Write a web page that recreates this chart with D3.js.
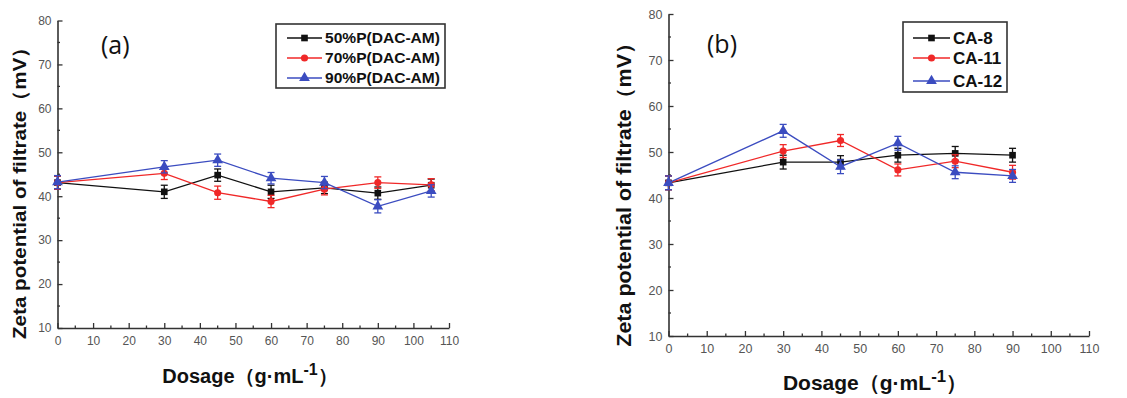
<!DOCTYPE html>
<html><head><meta charset="utf-8">
<script src="https://cdn.jsdelivr.net/npm/d3@7"></script>
<style>
html,body{margin:0;padding:0;background:#fff;}
svg{display:block;}
text{font-family:Arial,"Liberation Sans",sans-serif;}
</style></head>
<body>
<script>
// ---------- data ----------
const xTicks = [0,10,20,30,40,50,60,70,80,90,100,110];
const yTicks = [10,20,30,40,50,60,70,80];

const dosesA = [0,30,45,60,75,90,105];
const namesA = ["50%P(DAC-AM)","70%P(DAC-AM)","90%P(DAC-AM)"];
const a50 = [43.1,41.0,44.8,41.0,41.9,40.7,42.5];
const a70 = [43.1,45.2,40.8,38.8,41.6,43.1,42.6];
const a90 = [43.2,46.7,48.2,44.1,43.1,37.7,41.2];
const a50err = [1.5,1.5,1.4,1.5,1.3,1.4,1.4];
const a70err = [1.5,1.4,1.5,1.4,1.3,1.3,1.4];
const a90err = [1.5,1.4,1.4,1.3,1.4,1.5,1.4];

const dosesB = [0,30,45,60,75,90];
const namesB = ["CA-8","CA-11","CA-12"];
const b8  = [43.3,47.8,47.8,49.3,49.7,49.3];
const b11 = [43.3,50.2,52.5,46.1,48.0,45.6];
const b12 = [43.3,54.6,46.8,51.9,45.6,44.8];
const b8err  = [1.5,1.5,1.4,1.5,1.5,1.5];
const b11err = [1.5,1.4,1.3,1.3,1.4,1.5];
const b12err = [1.5,1.4,1.5,1.5,1.4,1.4];

const colors = ["#111111","#f02828","#3b4cc0"];
const shapes = [d3.symbolSquare, d3.symbolCircle, d3.symbolTriangle];
const symSizes = [44, 40, 50];

const W = 1127, H = 398;
const svg = d3.select("body").append("svg").attr("width",W).attr("height",H);

function panel(cfg){
  const g = svg.append("g");
  const x = d3.scaleLinear().domain([0,110]).range([cfg.x0,cfg.x1]);
  const y = d3.scaleLinear().domain([10,80]).range([cfg.y0,cfg.y1]);

  const xMinor = d3.range(5,110,10);
  const yMinor = d3.range(15,80,10);
  // x axis
  const xa = g.append("g").attr("transform",`translate(0,${cfg.y0})`)
    .call(d3.axisBottom(x).tickValues(xTicks).tickSize(-5).tickPadding(cfg.xPad).tickSizeOuter(0));
  xa.select(".domain").attr("stroke","#333").attr("stroke-width",1.6);
  xa.selectAll(".tick line").attr("stroke","#333").attr("stroke-width",1.3);
  xa.selectAll(".tick text").attr("fill","#555").style("font-size",cfg.tickFont+"px");
  g.append("g").selectAll("line").data(xMinor).join("line")
    .attr("x1",d=>x(d)).attr("x2",d=>x(d)).attr("y1",cfg.y0).attr("y2",cfg.y0-2.5)
    .attr("stroke","#333").attr("stroke-width",1.3);
  // y axis
  const ya = g.append("g").attr("transform",`translate(${cfg.x0},0)`)
    .call(d3.axisLeft(y).tickValues(yTicks).tickSize(-5).tickPadding(cfg.yPad).tickSizeOuter(0));
  ya.select(".domain").attr("stroke","#333").attr("stroke-width",1.6);
  ya.selectAll(".tick line").attr("stroke","#333").attr("stroke-width",1.3);
  ya.selectAll(".tick text").attr("fill","#555").style("font-size",cfg.tickFont+"px");
  g.append("g").selectAll("line").data(yMinor).join("line")
    .attr("x1",cfg.x0).attr("x2",cfg.x0+2.5).attr("y1",d=>y(d)).attr("y2",d=>y(d))
    .attr("stroke","#333").attr("stroke-width",1.3);

  // series
  cfg.series.forEach((s,i)=>{
    const pts = cfg.doses.map((d,j)=>({x:d,y:s.vals[j],e:s.err[j]}));
    const sg = g.append("g");
    sg.append("path").datum(pts)
      .attr("d",d3.line().x(d=>x(d.x)).y(d=>y(d.y)))
      .attr("fill","none").attr("stroke",colors[i]).attr("stroke-width",1.3);
    const eb = sg.selectAll("g.eb").data(pts).join("g");
    eb.append("line").attr("x1",d=>x(d.x)).attr("x2",d=>x(d.x))
      .attr("y1",d=>y(d.y-d.e)).attr("y2",d=>y(d.y+d.e))
      .attr("stroke",colors[i]).attr("stroke-width",1.3);
    [1,-1].forEach(sg2=>{
      eb.append("line").attr("x1",d=>x(d.x)-3.5).attr("x2",d=>x(d.x)+3.5)
        .attr("y1",d=>y(d.y+sg2*d.e)).attr("y2",d=>y(d.y+sg2*d.e))
        .attr("stroke",colors[i]).attr("stroke-width",1.3);
    });
    sg.selectAll("path.m").data(pts).join("path").attr("class","m")
      .attr("transform",d=>`translate(${x(d.x)},${y(d.y)})`)
      .attr("d",d3.symbol().type(shapes[i]).size(symSizes[i]))
      .attr("fill",colors[i]);
  });

  // legend
  const L = cfg.legend;
  g.append("rect").attr("x",L.x).attr("y",L.y).attr("width",L.w).attr("height",L.h)
    .attr("fill","#fff").attr("stroke","#333").attr("stroke-width",1.6);
  cfg.series.forEach((s,i)=>{
    const cy = L.rows[i];
    g.append("line").attr("x1",L.lx0).attr("x2",L.lx1).attr("y1",cy).attr("y2",cy)
      .attr("stroke",colors[i]).attr("stroke-width",1.4);
    g.append("path").attr("transform",`translate(${(L.lx0+L.lx1)/2},${cy})`)
      .attr("d",d3.symbol().type(shapes[i]).size(symSizes[i])).attr("fill",colors[i]);
    g.append("text").attr("x",L.tx).attr("y",cy).attr("dy","0.36em")
      .attr("font-weight","bold").style("font-size",L.font+"px").attr("fill","#111")
      .attr("textLength",L.tl ? L.tl[i] : null).attr("lengthAdjust","spacingAndGlyphs")
      .text(s.name);
  });

  // panel label
  g.append("text").attr("x",cfg.lab.x).attr("y",cfg.lab.y)
    .style("font-family","'Open Sans','Noto Sans',sans-serif").style("font-size",cfg.lab.size+"px")
    .attr("fill","#111").text(cfg.lab.t);

  // y title (stretched along its direction to the reference's length)
  const ytg = g.append("g");
  const yt = ytg.append("text")
    .attr("text-anchor","middle").attr("font-weight","bold").style("font-size",cfg.yt.size+"px")
    .attr("fill","#111").text("Zeta potential of filtrate（mV）");
  const nat = yt.node().getComputedTextLength();
  const sx = cfg.yt.len / nat;
  ytg.attr("transform",`translate(${cfg.yt.x},${cfg.yt.y}) rotate(-90) scale(${sx},1)`);

  // x title
  const xt = g.append("text").attr("x",cfg.xt.x).attr("y",cfg.xt.y).attr("text-anchor","middle")
    .attr("font-weight","bold").style("font-size",cfg.xt.size+"px").attr("fill","#111");
  xt.append("tspan").text("Dosage（g·mL");
  xt.append("tspan").attr("dy",-cfg.xt.size*0.4).style("font-size",(cfg.xt.size*0.8)+"px").text("-1");
  xt.append("tspan").attr("dy",cfg.xt.size*0.4).text("）");
}

panel({
  x0:57.5, x1:449, y0:328, y1:20.5, tickFont:12, xPad:8, yPad:6,
  doses:dosesA,
  series:[{name:namesA[0],vals:a50,err:a50err},{name:namesA[1],vals:a70,err:a70err},{name:namesA[2],vals:a90,err:a90err}],
  legend:{x:276,y:24,w:169,h:64,rows:[38,58,78],lx0:287,lx1:322,tx:325,font:15,tl:[115,115,115]},
  lab:{x:101,y:54,size:25,t:"(a)"},
  yt:{x:26,y:188,size:19,len:302},
  xt:{x:250,y:383,size:20}
});

panel({
  x0:668.5, x1:1089, y0:336, y1:14, tickFont:12.5, xPad:8, yPad:6,
  doses:dosesB,
  series:[{name:namesB[0],vals:b8,err:b8err},{name:namesB[1],vals:b11,err:b11err},{name:namesB[2],vals:b12,err:b12err}],
  legend:{x:903,y:22,w:104,h:70,rows:[38,58,81],lx0:913,lx1:950,tx:953,font:17},
  lab:{x:707,y:53,size:25,t:"(b)"},
  yt:{x:631,y:189.5,size:20,len:314},
  xt:{x:875,y:390,size:21}
});
</script>
</body></html>
